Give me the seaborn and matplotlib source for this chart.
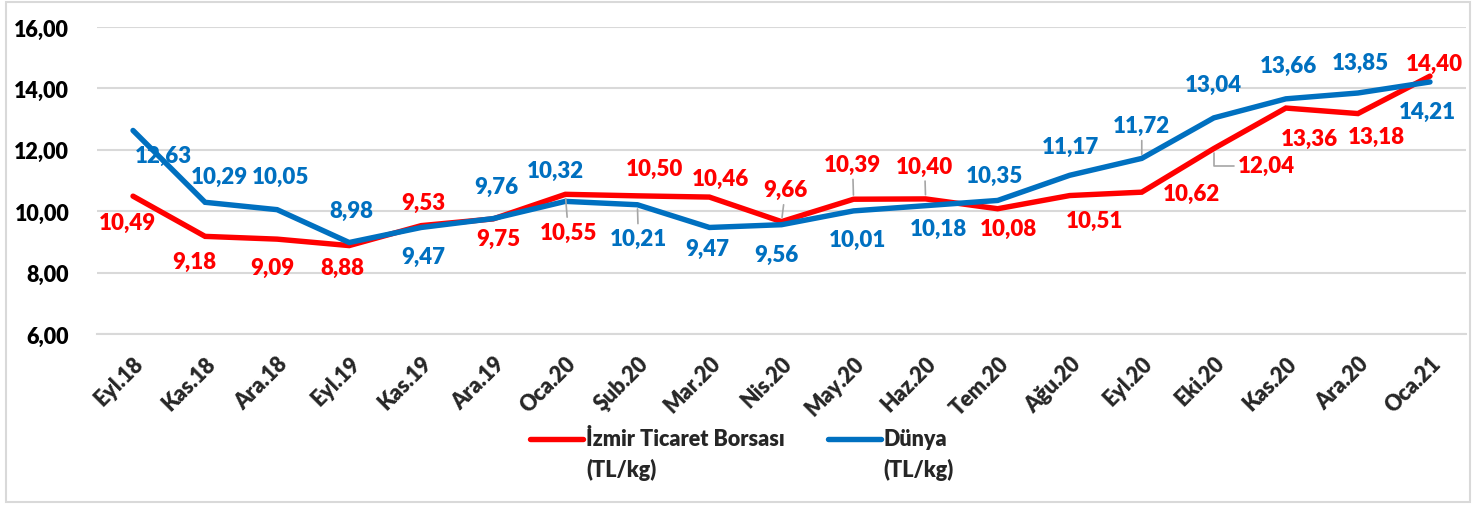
import numpy as np
import pandas as pd
import matplotlib.pyplot as plt
import matplotlib.patches as mpatches
from matplotlib.lines import Line2D
import seaborn as sns

# Data
months = ['Eyl.18', 'Kas.18', 'Ara.18', 'Eyl.19', 'Kas.19', 'Ara.19', 'Oca.20',
          'Şub.20', 'Mar.20', 'Nis.20', 'May.20', 'Haz.20', 'Tem.20', 'Ağu.20',
          'Eyl.20', 'Eki.20', 'Kas.20', 'Ara.20', 'Oca.21']
izmir = [10.49, 9.18, 9.09, 8.88, 9.53, 9.75, 10.55, 10.50, 10.46, 9.66, 10.39,
         10.40, 10.08, 10.51, 10.62, 12.04, 13.36, 13.18, 14.40]
dunya = [12.63, 10.29, 10.05, 8.98, 9.47, 9.76, 10.32, 10.21, 9.47, 9.56, 10.01,
         10.18, 10.35, 11.17, 11.72, 13.04, 13.66, 13.85, 14.21]
series_names = ['İzmir Ticaret Borsası\n(TL/kg)', 'Dünya\n(TL/kg)']
yticks = [6, 8, 10, 12, 14, 16]

# label offsets in pixels (dx, dy with dy positive downward), plus leader-line flags
red_off = [(-6, 26), (-11, 25), (-5, 28), (-7, 22), (2, -23), (5, 20), (3, 38),
           (17, -27), (11, -19), (4, -32), (-1, -35), (-1, -33), (11, 20), (25, 25),
           (50, 1), (53, 17), (24, 30), (18, 23), (4, -13)]
red_lead = [6, 9, 10, 11, 15]
blue_off = [(30, 25), (14, -26), (3, -33), (2, -32), (2, 29), (3, -32), (-10, -31),
            (1, 34), (-2, 21), (-5, 30), (4, 29), (13, 23), (-3, -25), (1, -29),
            (0, -33), (0, -33), (3, -33), (2, -31), (-3, 29)]
blue_lead = [7, 14]
elbow_lead = [15]  # the 12,04 leader bends

RED = '#FF0000'
BLUE = '#0070C0'
GRID = '#D9D9D9'
W = 'heavy'

sns.set_style('white')
plt.rcParams['font.family'] = ['Lato', 'DejaVu Sans']
plt.rcParams['font.weight'] = W

df = pd.DataFrame({
    'pos': np.tile(np.arange(len(months)), 2),
    'value': izmir + dunya,
    'series': [series_names[0]] * len(months) + [series_names[1]] * len(months),
})

fig = plt.figure(figsize=(14.74, 5.06), dpi=100)
ax = fig.add_axes([97 / 1474, 1 - 335 / 506, (1466 - 97) / 1474, (335 - 28) / 506])

sns.lineplot(data=df, x='pos', y='value', hue='series',
             palette={series_names[0]: RED, series_names[1]: BLUE},
             linewidth=3.9, ax=ax, legend=False, sort=False)
for line in ax.get_lines():
    line.set_solid_joinstyle('miter')

ax.set_xlim(-0.5, len(months) - 0.5)
ax.set_ylim(6, 16)
ax.set_yticks(yticks)
ax.set_yticklabels([f'{v:.2f}'.replace('.', ',') for v in yticks], fontsize=15.5,
                   fontweight=W, color='black')
ax.tick_params(axis='y', length=0, pad=20)
ax.grid(axis='y', color=GRID, linewidth=1.5)
ax.set_axisbelow(True)

ax.set_xticks(np.arange(len(months)))
ax.set_xticklabels(months, rotation=45, ha='right', va='top', rotation_mode='anchor',
                   fontsize=15.5, fontweight=W)
ax.tick_params(axis='x', which='major', length=0, pad=13)
ax.set_xticks(np.arange(len(months) + 1) - 0.5, minor=True)
ax.tick_params(axis='x', which='minor', length=6, width=1.5, color=GRID, direction='out')
ax.set_xlabel('')
ax.set_ylabel('')

for s in ['left', 'right', 'top']:
    ax.spines[s].set_visible(False)
ax.spines['bottom'].set_color(GRID)
ax.spines['bottom'].set_linewidth(1.5)


def add_labels(values, offsets, leaders, color, elbows=()):
    for i, (v, (dx, dy)) in enumerate(zip(values, offsets)):
        txt = f'{v:.2f}'.replace('.', ',')
        arrow = None
        if i in leaders:
            arrow = dict(arrowstyle='-', color='#A6A6A6', lw=1.2, shrinkA=1, shrinkB=3)
            if i in elbows:
                arrow.update(connectionstyle='angle,angleA=0,angleB=90,rad=0',
                             relpos=(0, 0.5))
        ax.annotate(txt, xy=(i, v), xytext=(dx, -dy), textcoords='offset pixels',
                    ha='center', va='center', fontsize=16, fontweight=W,
                    color=color, arrowprops=arrow, annotation_clip=False)


add_labels(izmir, red_off, red_lead, RED, elbow_lead)
add_labels(dunya, blue_off, blue_lead, BLUE)

handles = [Line2D([], [], color=RED, lw=3.9, solid_capstyle='round'),
           Line2D([], [], color=BLUE, lw=3.9, solid_capstyle='round')]
leg = fig.legend(handles, series_names, loc='upper left', bbox_to_anchor=(530 / 1474, 1 - 429 / 506),
                 ncol=2, frameon=False, fontsize=15.5, handlelength=2.45, handletextpad=0.15,
                 columnspacing=2.0, borderpad=0, borderaxespad=0)
for t in leg.get_texts():
    t.set_linespacing(1.5)
# put the legend line next to the first text row, as in the original
for h in leg.legend_handles:
    h.set_ydata(np.asarray(h.get_ydata()) + 11.5)

fig.patches.append(mpatches.Rectangle((0.004, 0.006), 0.993, 0.988, transform=fig.transFigure,
                                      fill=False, edgecolor=GRID, linewidth=1.5))

fig.savefig('out.png', dpi=100)
